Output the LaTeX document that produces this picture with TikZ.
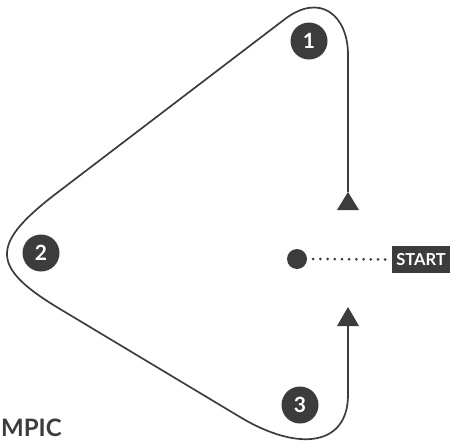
\documentclass[tikz,border=0pt]{standalone}
\usepackage{fontspec}
\setmainfont{Lato}
\definecolor{ink}{HTML}{3C3C3C}
\begin{document}
\begin{tikzpicture}[x=1pt,y=-1pt,
  route/.style={draw=ink,line width=1.7pt},
  badge/.style={circle,fill=ink,minimum size=37pt,inner sep=0pt,text=white,font=\bfseries\fontsize{21}{21}\selectfont},
  tip/.style={fill=ink,draw=none},
  startbox/.style={fill=ink,text=white,minimum width=58pt,minimum height=27pt,inner sep=0pt,font=\bfseries\fontsize{16.5}{16.5}\selectfont},
  dots/.style={draw=ink,line width=3pt,line cap=round,dash pattern=on 0pt off 7.2pt}]
\useasboundingbox (0,0) rectangle (450,442);
% route
\coordinate (topend) at (348,192);
\coordinate (botend) at (348,326);
\draw[route] (topend) -- (348,55)
  .. controls (348,15) and (320,-7.6) .. (285,19)
  -- (60,190.6)
  .. controls (-10.7,244) and (-10.7,266.6) .. (60,309)
  -- (240,417)
  .. controls (300,453) and (348,445) .. (348,395)
  -- (botend);
% arrowheads
\fill[tip] (topend) -- (359,210) -- (337,210) -- cycle;
\fill[tip] (348,307) -- (359,326) -- (337,326) -- cycle;
% badges
\node[badge] (b1) at (309,41) {1};
\node[badge] (b2) at (41,253) {2};
\node[badge] (b3) at (300,405) {3};
% start
\node[circle,fill=ink,minimum size=20pt,inner sep=0pt] (dot) at (297,259) {};
\node[startbox] (start) at (421,259.5) {START};
\draw[dots] ([xshift=6pt]dot.east) -- (start.west);
% cropped title
\node[anchor=south west,inner sep=0pt,text=ink,font=\bfseries\fontsize{24}{24}\selectfont] (title) at (1,437) {MPIC};
\end{tikzpicture}
\end{document}
